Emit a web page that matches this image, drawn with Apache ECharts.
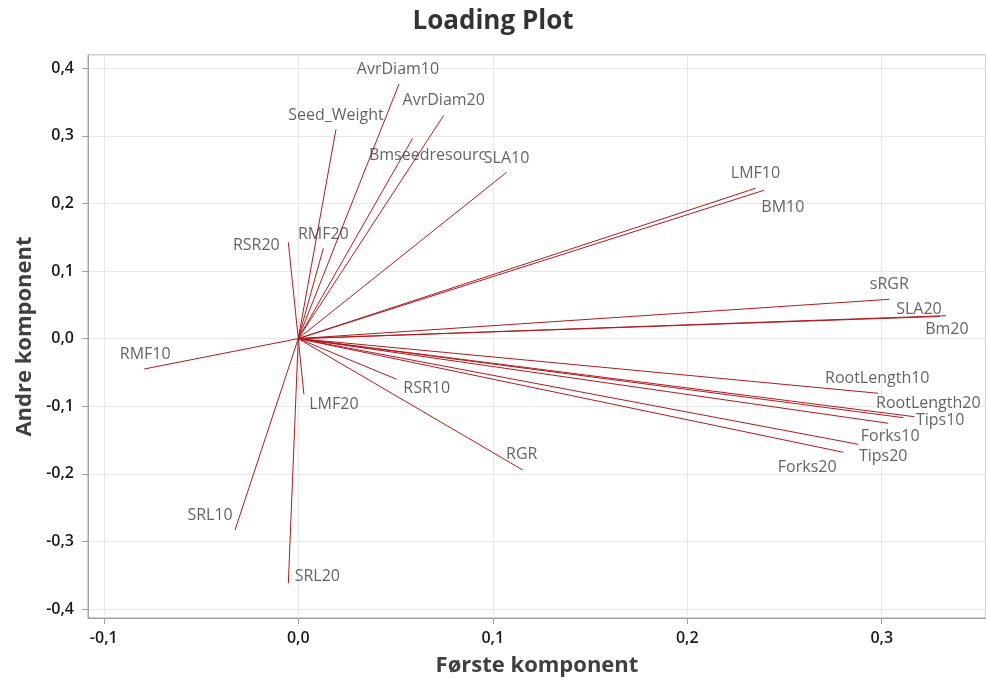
<!DOCTYPE html>
<html>
<head>
<meta charset="utf-8">
<title>Loading Plot</title>
<script src="https://cdn.jsdelivr.net/npm/echarts@6/dist/echarts.min.js"></script>
<style>
  html, body { margin: 0; padding: 0; background: #ffffff; }
  #chart { width: 986px; height: 682px; }
</style>
</head>
<body>
<div id="chart"></div>
<script>
// PCA loadings: first and second component for each variable
const variables = ['AvrDiam10', 'AvrDiam20', 'Seed_Weight', 'Bmseedresourc', 'SLA10',
  'LMF10', 'BM10', 'sRGR', 'SLA20', 'Bm20', 'RootLength10', 'RootLength20', 'Tips10',
  'Forks10', 'Tips20', 'Forks20', 'RSR20', 'RMF20', 'RMF10', 'LMF20', 'RSR10', 'RGR',
  'SRL10', 'SRL20'];
const comp1 = [0.0518, 0.0748, 0.0194, 0.0588, 0.1071,
  0.2351, 0.2394, 0.3039, 0.3299, 0.3330, 0.2982, 0.3111, 0.3167,
  0.3033, 0.2879, 0.2802, -0.0051, 0.0129, -0.0792, 0.0029, 0.0506, 0.1154,
  -0.0325, -0.0051];
const comp2 = [0.3767, 0.3304, 0.3097, 0.2963, 0.2460,
  0.2224, 0.2194, 0.0581, 0.0327, 0.0339, -0.0809, -0.1170, -0.1155,
  -0.1253, -0.1564, -0.1682, 0.1425, 0.1336, -0.0450, -0.0824, -0.0602, -0.1944,
  -0.2832, -0.3620];

// label placement relative to each vector tip, in pixels
const labelOffsets = [[-1, -15], [0, -15], [0, -14], [15, 17], [0, -14],
  [0, -15], [19, 17], [0, -15], [-21, -7], [1, 14], [-1, -15], [25, -14], [26, 4],
  [2, 13], [25, 12], [-36, 15], [-32, 3], [0, -14], [1, -15], [30, 10], [30, 9], [-1, -16],
  [-25, -15], [29, -7]];

const lineColor = '#b11a1f';
const labelFont = 'Open Sans, Noto Sans, sans-serif';

const vectorData = variables.map((v, i) => ({
  name: v,
  coords: [[0, 0], [comp1[i], comp2[i]]]
}));

const tipData = variables.map((v, i) => ({
  name: v,
  value: [comp1[i], comp2[i]],
  label: { offset: labelOffsets[i] }
}));

const fmt = v => v.toFixed(1).replace('.', ',').replace('-0,0', '0,0');

const chart = echarts.init(document.getElementById('chart'), null, { renderer: 'canvas' });
chart.setOption({
  animation: false,
  backgroundColor: '#ffffff',
  title: {
    text: 'Loading Plot',
    left: 'center',
    top: 4,
    textStyle: { fontFamily: labelFont, fontSize: 26, fontWeight: 'bold', color: '#333333' }
  },
  grid: {
    left: 88, right: -2, top: 55, bottom: 64,
    show: true, borderColor: '#a0a0a0', borderWidth: 1
  },
  xAxis: {
    type: 'value',
    min: -0.1081, max: 0.3536,
    splitNumber: 5,
    name: 'Første komponent',
    nameLocation: 'middle',
    nameGap: 37,
    nameTextStyle: { fontFamily: labelFont, fontSize: 22, fontWeight: 'bold', color: '#404040' },
    axisLine: { show: true, onZero: false, lineStyle: { color: '#a0a0a0' } },
    axisTick: { show: true, length: 6, lineStyle: { color: '#a0a0a0' } },
    axisLabel: {
      showMinLabel: false, showMaxLabel: false,
      margin: 12, fontFamily: labelFont, fontSize: 16, fontWeight: 600, color: '#1a1a1a',
      formatter: fmt
    },
    splitLine: { show: true, lineStyle: { color: '#e8e8e8' } }
  },
  yAxis: {
    type: 'value',
    min: -0.4134, max: 0.4196,
    splitNumber: 8,
    name: 'Andre komponent',
    nameLocation: 'middle',
    nameGap: 42,
    nameTextStyle: { fontFamily: labelFont, fontSize: 22, fontWeight: 'bold', color: '#404040' },
    axisLine: { show: true, onZero: false, lineStyle: { color: '#a0a0a0' } },
    axisTick: { show: true, length: 6, lineStyle: { color: '#a0a0a0' } },
    axisLabel: {
      showMinLabel: false, showMaxLabel: false,
      margin: 14, fontFamily: labelFont, fontSize: 16, fontWeight: 600, color: '#1a1a1a',
      formatter: fmt
    },
    splitLine: { show: true, lineStyle: { color: '#e8e8e8' } }
  },
  series: [
    {
      type: 'lines',
      coordinateSystem: 'cartesian2d',
      silent: true,
      lineStyle: { color: lineColor, width: 1, opacity: 1 },
      data: vectorData
    },
    {
      type: 'scatter',
      silent: true,
      symbolSize: 1,
      itemStyle: { color: 'rgba(0,0,0,0)' },
      label: {
        show: true,
        position: 'inside',
        formatter: p => p.name,
        fontFamily: labelFont,
        fontSize: 16,
        color: '#3c3c3c'
      },
      data: tipData
    }
  ]
});
</script>
</body>
</html>
